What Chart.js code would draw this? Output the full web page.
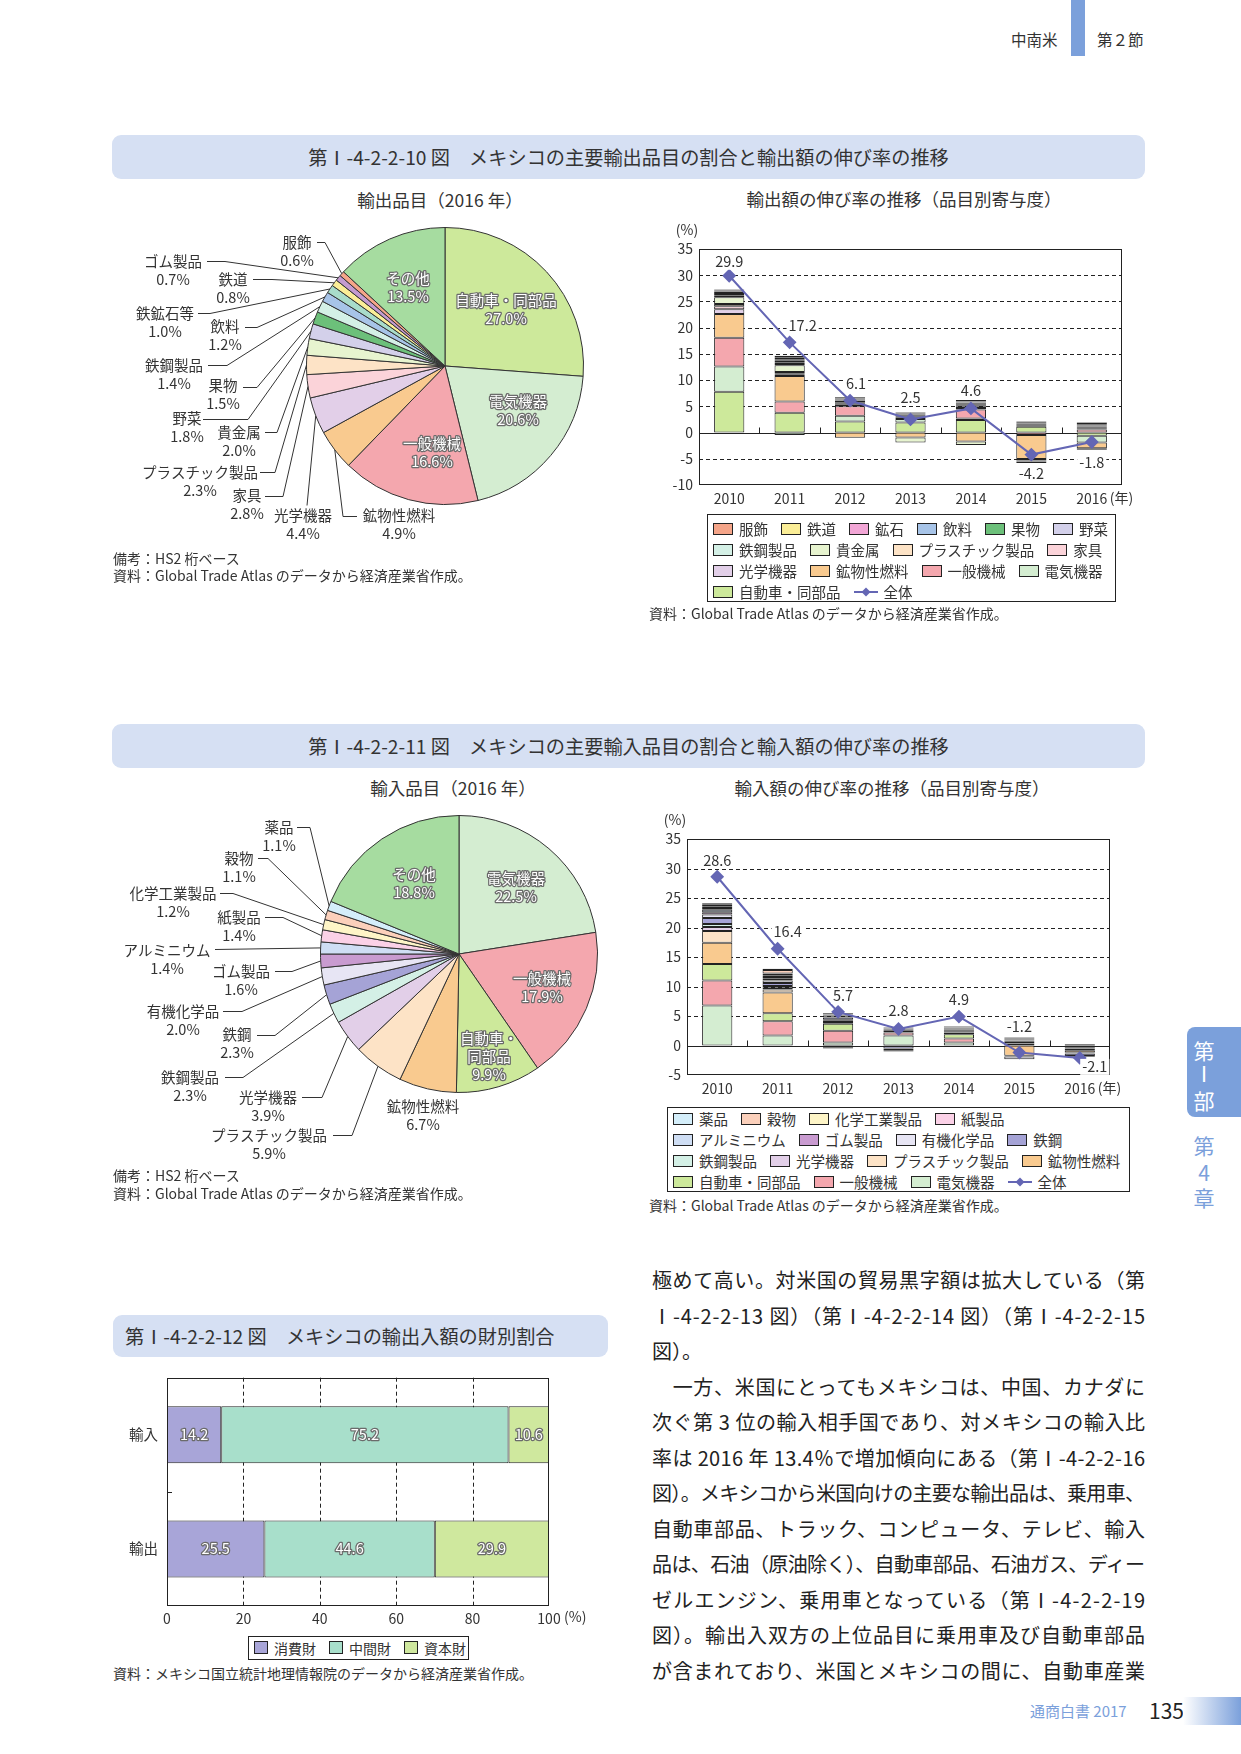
<!DOCTYPE html>
<html lang="ja">
<head>
<meta charset="utf-8">
<title>メキシコの主要輸出入品目</title>
<script src="https://cdn.jsdelivr.net/npm/chart.js"></script>
<style>
  body { margin: 0; background: #fff; }
  #page { position: relative; width: 1241px; height: 1754px; overflow: hidden;
          font-family: "Noto Sans CJK JP", "Noto Sans", sans-serif; color: #333; }
  .t { position: absolute; white-space: nowrap; line-height: 1; }
  .c { transform: translateX(-50%); }
  .titlebar { position: absolute; background: #d6e0f3; border-radius: 9px; display: flex;
              align-items: center; font-size: 19.2px; color: #333; white-space: nowrap; }
  canvas { position: absolute; }
  .legend { position: absolute; border: 1px solid #222; box-sizing: border-box; font-size: 14.5px; color: #333; }
  .lrow { display: flex; align-items: center; height: 21px; }
  .litem { display: flex; align-items: center; margin-right: 13px; white-space: nowrap; }
  .sw { box-sizing: border-box; width: 20px; height: 12px; border: 1px solid #222; margin-right: 6px; }
  #goodsLegend .sw { width: 14px; height: 13px; }
  .note { position: absolute; font-size: 14px; white-space: nowrap; line-height: 18px; color: #333; }
  .body { position: absolute; left: 652px; top: 1262px; width: 493px; font-size: 20px; line-height: 35.5px; color: #222; }
  .body div { white-space: nowrap; }
  .body span { display: inline-block; }
</style>
</head>
<body>
<div id="page">

  <!-- running head -->
  <div class="t" style="left:1011px;top:32px;font-size:15.5px;">中南米</div>
  <div style="position:absolute;left:1071px;top:0;width:14px;height:56px;background:#7ba0db;"></div>
  <div class="t" style="left:1097px;top:32px;font-size:15.5px;">第２節</div>

  <!-- figure 10 -->
  <div class="titlebar" style="left:112px;top:135px;width:1033px;height:44px;justify-content:center;">第Ⅰ-4-2-2-10 図　メキシコの主要輸出品目の割合と輸出額の伸び率の推移</div>
  <div class="t c" style="left:440px;top:191px;font-size:17.5px;">輸出品目（2016 年）</div>
  <div class="t c" style="left:904px;top:190px;font-size:17.5px;">輸出額の伸び率の推移（品目別寄与度）</div>
  <canvas id="exPie" width="520" height="340" style="left:112px;top:210px;"></canvas>
  <canvas id="exGrowth" width="510" height="300" style="left:640px;top:215px;"></canvas>
  <div class="note" style="left:113px;top:549px;">備考：HS2 桁ベース</div>
  <div class="note" style="left:113px;top:566px;">資料：Global Trade Atlas のデータから経済産業省作成。</div>
  <div id="exLegend" class="legend" style="left:707px;top:514px;width:409px;height:88px;padding:3px 0 0 5px;"></div>
  <div class="note" style="left:649px;top:604px;">資料：Global Trade Atlas のデータから経済産業省作成。</div>

  <!-- figure 11 -->
  <div class="titlebar" style="left:112px;top:724px;width:1033px;height:44px;justify-content:center;">第Ⅰ-4-2-2-11 図　メキシコの主要輸入品目の割合と輸入額の伸び率の推移</div>
  <div class="t c" style="left:453px;top:779px;font-size:17.5px;">輸入品目（2016 年）</div>
  <div class="t c" style="left:892px;top:779px;font-size:17.5px;">輸入額の伸び率の推移（品目別寄与度）</div>
  <canvas id="imPie" width="520" height="370" style="left:112px;top:800px;"></canvas>
  <canvas id="imGrowth" width="510" height="300" style="left:640px;top:805px;"></canvas>
  <div class="note" style="left:113px;top:1166px;">備考：HS2 桁ベース</div>
  <div class="note" style="left:113px;top:1184px;">資料：Global Trade Atlas のデータから経済産業省作成。</div>
  <div id="imLegend" class="legend" style="left:667px;top:1107px;width:463px;height:85px;padding:0 0 0 5px;"></div>
  <div class="note" style="left:649px;top:1196px;">資料：Global Trade Atlas のデータから経済産業省作成。</div>

  <!-- figure 12 -->
  <div class="titlebar" style="left:113px;top:1315px;width:495px;height:42px;padding-left:12px;box-sizing:border-box;">第Ⅰ-4-2-2-12 図　メキシコの輸出入額の財別割合</div>
  <canvas id="goods" width="500" height="270" style="left:112px;top:1360px;"></canvas>
  <div id="goodsLegend" class="legend" style="left:248px;top:1636px;width:221px;height:24px;padding:0 0 0 5px;font-size:14px;"></div>
  <div class="note" style="left:113px;top:1664px;">資料：メキシコ国立統計地理情報院のデータから経済産業省作成。</div>

  <!-- body text -->
  <div class="body" id="body"></div>

  <!-- side tab -->
  <div style="position:absolute;left:1187px;top:1027px;width:60px;height:90px;background:#7ba0db;border-radius:8px 0 0 8px;"></div>
  <div class="t c" style="left:1204px;top:1040px;font-size:21px;color:#fff;">第</div>
  <div class="t c" style="left:1204px;top:1063px;font-size:21px;color:#fff;">Ⅰ</div>
  <div class="t c" style="left:1204px;top:1090px;font-size:21px;color:#fff;">部</div>
  <div class="t c" style="left:1204px;top:1135px;font-size:21px;color:#7ba0db;">第</div>
  <div class="t c" style="left:1204px;top:1162px;font-size:21px;color:#7ba0db;">4</div>
  <div class="t c" style="left:1204px;top:1187px;font-size:21px;color:#7ba0db;">章</div>

  <!-- footer -->
  <div class="t" style="left:1030px;top:1703px;font-size:15px;color:#7ba0db;">通商白書 2017</div>
  <div class="t" style="left:1149px;top:1700px;font-size:21px;color:#222;">135</div>
  <div style="position:absolute;left:1183px;top:1697px;width:58px;height:28px;background:linear-gradient(to right,#fff,#7ba0db);"></div>
</div>

<script>
/* PIE DATA: 2016 shares (%) */
const exPieNames = ['自動車・同部品', '電気機器', '一般機械', '鉱物性燃料', '光学機器', '家具', 'プラスチック製品',
  '貴金属', '野菜', '果物', '鉄鋼製品', '飲料', '鉄鉱石等', '鉄道', 'ゴム製品', '服飾', 'その他'];
const exPieShares = [27.0, 20.6, 16.6, 4.9, 4.4, 2.8, 2.3, 2.0, 1.8, 1.5, 1.4, 1.2, 1.0, 0.8, 0.7, 0.6, 13.5];

const imPieNames = ['電気機器', '一般機械', '自動車・同部品', '鉱物性燃料', 'プラスチック製品', '光学機器', '鉄鋼製品',
  '鉄鋼', '有機化学品', 'ゴム製品', 'アルミニウム', '紙製品', '化学工業製品', '穀物', '薬品', 'その他'];
const imPieShares = [22.5, 17.9, 9.9, 6.7, 5.9, 3.9, 2.3, 2.3, 2.0, 1.6, 1.4, 1.4, 1.2, 1.1, 1.1, 18.8];

/* GROWTH DATA: contribution by item (% pt) */
const years = ['2010', '2011', '2012', '2013', '2014', '2015', '2016'];

const exApparel   = [0.1, 0.3, 0.15, 0.05, 0.2, 0, 0.05];
const exRail      = [0.1, 0.15, 0.05, 0, 0.1, 0.05, 0.05];
const exOre       = [0.2, 0.3, 0.1, 0.05, 0.1, -0.3, -0.3];
const exDrink     = [0.3, 0.2, 0.1, 0.05, 0.1, 0.1, 0.1];
const exFruit     = [0.2, 0.3, 0.1, 0.1, 0.2, 0.15, 0.2];
const exVeg       = [0.3, 0.35, 0.2, 0.1, 0.2, 0.1, 0.15];
const exSteelProd = [0.3, 0.2, 0.1, 0.1, 0.2, -0.15, 0.1];
const exPrecious  = [1.3, 1.3, 0.3, -0.95, -0.65, -0.3, 0.2];
const exPlastic   = [0.4, 0.25, 0.2, 0.15, 0.2, 0.1, 0.15];
const exFurniture = [0.6, 0.2, 0.2, 0.2, 0.2, 0.15, 0.2];
const exOptical   = [0.9, 0.3, 0.3, 0.2, 0.3, 0.2, 0.2];
const exFuel      = [4.5, 4.9, -1.0, -0.95, -1.7, -4.6, -1.1];
const exMachinery = [5.5, 2.1, 1.8, 0.3, 1.7, -0.45, 0.6];
const exElectric  = [4.8, -0.45, 1.1, 0.7, 0.3, 0.2, -1.3];
const exAuto      = [7.8, 3.8, 2.1, 1.9, 2.4, 1.1, -0.6];
const exTotal     = [29.9, 17.2, 6.1, 2.5, 4.6, -4.2, -1.8];

const imPharma    = [0.25, 0.2, 0.1, 0.1, 0.05, 0.1, 0.1];
const imGrain     = [0.25, 0.6, -0.2, -0.2, 0.05, 0, 0];
const imChem      = [0.3, 0.3, 0.1, 0.05, 0.1, 0.1, 0];
const imPaper     = [0.3, 0.3, 0.1, 0.05, 0.1, 0.2, 0];
const imAlum      = [0.4, 0.3, 0.1, 0.05, 0.1, 0.1, 0];
const imRubber    = [0.4, 0.3, 0.15, 0.05, 0.1, 0, 0];
const imOrganic   = [0.6, 0.4, 0.2, -0.3, 0.1, -0.5, -0.1];
const imSteel     = [1.0, 0.5, 0.4, -0.4, 0.2, -0.1, -0.4];
const imSteelProd = [0.5, 0.3, 0.15, 0.1, 0.1, 0.1, -0.1];
const imOptical   = [0.7, 0.3, 0.2, 0.1, 0.2, 0.15, 0.1];
const imPlastic   = [2.0, 0.5, 0.3, 0.15, 0.3, 0, -0.1];
const imFuel      = [3.6, 3.55, -0.3, -0.1, 0, -1.75, -0.4];
const imAuto      = [2.8, 1.35, 1.2, 0.25, 0.7, 0.3, -0.3];
const imMachinery = [4.2, 2.4, 2.0, 0.5, 0.7, 0.35, -0.2];
const imElectric  = [6.8, 1.7, 0.5, 1.7, 0.5, 0, -0.3];
const imTotal     = [28.6, 16.4, 5.7, 2.8, 4.9, -1.2, -2.1];

/* GOODS SHARES (%) */
const goodsCats = ['輸入', '輸出'];
const consumerGoods = [14.2, 25.5];
const intermediateGoods = [75.2, 44.6];
const capitalGoods = [10.6, 29.9];

/* SERIES (legend order) */
const exSeries = [
  ['服飾', exApparel], ['鉄道', exRail], ['鉱石', exOre], ['飲料', exDrink], ['果物', exFruit], ['野菜', exVeg],
  ['鉄鋼製品', exSteelProd], ['貴金属', exPrecious], ['プラスチック製品', exPlastic], ['家具', exFurniture],
  ['光学機器', exOptical], ['鉱物性燃料', exFuel], ['一般機械', exMachinery], ['電気機器', exElectric],
  ['自動車・同部品', exAuto]
];
const imSeries = [
  ['薬品', imPharma], ['穀物', imGrain], ['化学工業製品', imChem], ['紙製品', imPaper],
  ['アルミニウム', imAlum], ['ゴム製品', imRubber], ['有機化学品', imOrganic], ['鉄鋼', imSteel],
  ['鉄鋼製品', imSteelProd], ['光学機器', imOptical], ['プラスチック製品', imPlastic], ['鉱物性燃料', imFuel],
  ['自動車・同部品', imAuto], ['一般機械', imMachinery], ['電気機器', imElectric]
];

/* COLOURS */
const LINE = '#6466b4';
const exColors = ['#f5a589', '#fbee97', '#f2a6d6', '#a7c4e8', '#6cc07a', '#d3d0ea', '#d4f0e6', '#e7f4cf',
  '#fde3c6', '#fbd3d9', '#e2cfe8', '#f9ca8f', '#f4a7ae', '#d4edd1', '#cde99b'];
const imColors = ['#d4eefa', '#fbd0bb', '#fef5c7', '#fbd1e7', '#cfdef4', '#c99bd0', '#e7e5f4', '#a5a3d6',
  '#d4f0e6', '#e2cfe8', '#fde3c6', '#f9ca8f', '#cde99b', '#f4a7ae', '#d4edd1'];
const exPieColors = ['#cde99b', '#d4edd1', '#f4a7ae', '#f9ca8f', '#e2cfe8', '#fbd3d9', '#fde3c6', '#e7f4cf',
  '#d3d0ea', '#6cc07a', '#d4f0e6', '#a7c4e8', '#a8dcca', '#fbee97', '#c49bd0', '#f5a589', '#a6dca0'];
const imPieColors = ['#d4edd1', '#f4a7ae', '#cde99b', '#f9ca8f', '#fde3c6', '#e2cfe8', '#d4f0e6', '#a5a3d6',
  '#e7e5f4', '#c99bd0', '#cfdef4', '#fbd1e7', '#fef5c7', '#fbd0bb', '#d4eefa', '#a6dca0'];
const goodsColors = ['#a8a5d8', '#a8dfcb', '#cfe89e'];

/* LABEL PLACEMENT (page px) */
const exPieSpots = [
  { x: 506, y: 300, inside: true }, { x: 518, y: 401, inside: true }, { x: 432, y: 443, inside: true },
  { x: 399, y: 515, sx: 357, sy: 516, ex: 343 }, { x: 303, y: 515, sx: 307, sy: 505, ex: 307 },
  { x: 247, y: 495, sx: 265, sy: 496, ex: 283 }, { x: 200, y: 472, sx: 260, sy: 472, ex: 275 },
  { x: 239, y: 432, sx: 265, sy: 432, ex: 277 }, { x: 187, y: 418, sx: 203, sy: 419, ex: 248 },
  { x: 223, y: 385, sx: 243, sy: 387, ex: 257 }, { x: 174, y: 365, sx: 208, sy: 365, ex: 227 },
  { x: 225, y: 326, sx: 245, sy: 327, ex: 257 }, { x: 165, y: 313, sx: 198, sy: 313, ex: 210 },
  { x: 233, y: 279, sx: 253, sy: 279, ex: 272 }, { x: 173, y: 261, sx: 207, sy: 261, ex: 225 },
  { x: 297, y: 242, sx: 317, sy: 242, ex: 325 }, { x: 408, y: 278, inside: true }
];
const imPieSpots = [
  { x: 516, y: 878, inside: true }, { x: 542, y: 978, inside: true }, { x: 489, y: 1038, inside: true, br: 4 },
  { x: 423, y: 1106 }, { x: 269, y: 1135, sx: 333, sy: 1135, ex: 352 },
  { x: 268, y: 1097, sx: 302, sy: 1097, ex: 322 }, { x: 190, y: 1077, sx: 225, sy: 1077, ex: 243 },
  { x: 237, y: 1034, sx: 257, sy: 1035, ex: 275 }, { x: 183, y: 1011, sx: 223, sy: 1011, ex: 242 },
  { x: 241, y: 971, sx: 275, sy: 971, ex: 292 }, { x: 167, y: 950, sx: 215, sy: 949, ex: 215 },
  { x: 239, y: 917, sx: 265, sy: 917, ex: 283 }, { x: 173, y: 893, sx: 220, sy: 893, ex: 233 },
  { x: 239, y: 858, sx: 258, sy: 858, ex: 268 }, { x: 279, y: 827, sx: 297, sy: 827, ex: 310 },
  { x: 414, y: 874, inside: true }
];
const exPointShift = [[0, -14], [13, -17], [6, -17], [0, -22], [0, -18], [0, 19], [0, 20]];
const imPointShift = [[0, -16], [10, -17], [5, -16], [0, -18], [0, -17], [0, -26], [15, 9]];

const FONT = '"Noto Sans CJK JP", "Noto Sans", sans-serif';
Chart.defaults.font.family = FONT;
Chart.defaults.font.size = 14;
Chart.defaults.color = '#333';
Chart.defaults.animation = false;
Chart.defaults.events = [];
Chart.defaults.plugins.legend.display = false;
Chart.defaults.plugins.tooltip.enabled = false;

/* white text with grey rim */
function halo(ctx, s, x, y) {
    ctx.lineJoin = 'round';
    ctx.lineWidth = 2.5;
    ctx.strokeStyle = '#6b6b6b';
    ctx.strokeText(s, x, y);
    ctx.fillStyle = '#fff';
    ctx.fillText(s, x, y);
}

/* PIE */
function pieLabels(spots, names, shares, ox, oy) {
    return {
        id: 'pieLabels',
        afterDatasetsDraw(chart) {
            const ctx = chart.ctx;
            const arcs = chart.getDatasetMeta(0).data;
            ctx.save();
            ctx.font = '14.5px ' + FONT;
            ctx.textAlign = 'center';
            ctx.textBaseline = 'middle';
            spots.forEach((s, i) => {
                const arc = arcs[i];
                if (s.sx !== undefined) {
                    const mid = (arc.startAngle + arc.endAngle) / 2;
                    const r = arc.outerRadius;
                    ctx.strokeStyle = '#333';
                    ctx.lineWidth = 1;
                    ctx.beginPath();
                    ctx.moveTo(s.sx - ox, s.sy - oy + 0.5);
                    ctx.lineTo(s.ex - ox, s.sy - oy + 0.5);
                    ctx.lineTo(arc.x + r * Math.cos(mid), arc.y + r * Math.sin(mid));
                    ctx.stroke();
                }
                const lines = s.br ? [names[i].slice(0, s.br), names[i].slice(s.br)] : [names[i]];
                lines.push(shares[i].toFixed(1) + '%');
                lines.forEach((t, k) => {
                    const x = s.x - ox, y = s.y - oy + k * 18;
                    if (s.inside) halo(ctx, t, x, y);
                    else { ctx.fillStyle = '#333'; ctx.fillText(t, x, y); }
                });
            });
            ctx.restore();
        }
    };
}

function makePie(id, names, shares, colors, spots, padding, ox, oy) {
    new Chart(document.getElementById(id), {
        type: 'pie',
        data: {
            labels: names,
            datasets: [{ data: shares, backgroundColor: colors, borderColor: '#333', borderWidth: 1, hoverOffset: 0, offset: 0 }]
        },
        options: { responsive: false, layout: { padding } },
        plugins: [pieLabels(spots, names, shares, ox, oy)]
    });
}

/* GROWTH BARS + LINE */
function growthDecor(totals, shift) {
    return {
        id: 'growthDecor',
        beforeDatasetsDraw(chart) {
            const { ctx, chartArea: a, scales: { x, y } } = chart;
            ctx.save();
            ctx.strokeStyle = '#222';
            ctx.lineWidth = 1;
            ctx.setLineDash([4, 3]);
            y.ticks.forEach(t => {
                if (t.value === 0 || t.value <= y.min || t.value >= y.max) return;
                const py = Math.round(y.getPixelForValue(t.value)) + 0.5;
                ctx.beginPath(); ctx.moveTo(a.left, py); ctx.lineTo(a.right, py); ctx.stroke();
            });
            ctx.setLineDash([]);
            const zy = Math.round(y.getPixelForValue(0)) + 0.5;
            ctx.beginPath();
            ctx.moveTo(a.left, zy); ctx.lineTo(a.right, zy);
            for (let i = 0; i < years.length - 1; i++) {
                const px = Math.round((x.getPixelForValue(i) + x.getPixelForValue(i + 1)) / 2) + 0.5;
                ctx.moveTo(px, zy); ctx.lineTo(px, zy - 6);
            }
            ctx.stroke();
            ctx.restore();
        },
        afterDatasetsDraw(chart) {
            const { ctx, chartArea: a, scales: { x } } = chart;
            ctx.save();
            ctx.strokeStyle = '#222';
            ctx.lineWidth = 1;
            ctx.strokeRect(Math.round(a.left) + 0.5, Math.round(a.top) + 0.5, Math.round(a.width) - 1, Math.round(a.height) - 1);
            ctx.font = '14.5px ' + FONT;
            ctx.textAlign = 'center';
            ctx.textBaseline = 'middle';
            const pts = chart.getDatasetMeta(chart.data.datasets.length - 1).data;
            pts.forEach((p, i) => {
                const s = totals[i].toFixed(1);
                const tx = p.x + shift[i][0], ty = p.y + shift[i][1];
                const w = ctx.measureText(s).width;
                ctx.fillStyle = '#fff';
                ctx.fillRect(tx - w / 2 - 2, ty - 8, w + 4, 16);
                ctx.fillStyle = '#333';
                ctx.fillText(s, tx, ty);
            });
            ctx.font = '14px ' + FONT;
            ctx.fillText('(%)', a.left - 12, a.top - 19);
            ctx.textAlign = 'left';
            ctx.fillText('(年)', x.getPixelForValue(years.length - 1) + 18, a.bottom + 13);
            ctx.restore();
        }
    };
}

function makeGrowth(id, series, colors, totals, yMin, yAxisW, padRight, shift) {
    const datasets = series.map((s, i) => ({
        type: 'bar', label: s[0], data: s[1], backgroundColor: colors[i],
        borderColor: '#222', borderWidth: 1, borderSkipped: false,
        barPercentage: 1, categoryPercentage: 0.5, stack: 'items', order: 1
    })).reverse();
    datasets.push({
        type: 'line', label: '全体', data: totals, stack: 'total', order: 0,
        borderColor: LINE, backgroundColor: LINE, borderWidth: 2,
        pointStyle: 'rectRot', pointRadius: 5.5, pointBackgroundColor: LINE, pointBorderColor: LINE
    });
    new Chart(document.getElementById(id), {
        type: 'bar',
        data: { labels: years, datasets },
        options: {
            responsive: false,
            layout: { padding: { left: 0, right: padRight, top: 34, bottom: 0 } },
            scales: {
                x: {
                    stacked: true, grid: { display: false, drawTicks: false }, border: { display: false },
                    ticks: { padding: 5, maxRotation: 0, autoSkip: false, font: { size: 14 } },
                    afterFit: s => { s.height = 30; }
                },
                y: {
                    stacked: true, min: yMin, max: 35, grid: { display: false, drawTicks: false }, border: { display: false },
                    ticks: { stepSize: 5, padding: 6, font: { size: 14 } },
                    afterFit: s => { s.width = yAxisW; }
                }
            }
        },
        plugins: [growthDecor(totals, shift)]
    });
}

/* GOODS (horizontal) */
const goodsDecor = {
    id: 'goodsDecor',
    beforeDatasetsDraw(chart) {
        const { ctx, chartArea: a, scales: { x, y } } = chart;
        ctx.save();
        ctx.strokeStyle = '#222';
        ctx.lineWidth = 1;
        ctx.setLineDash([4, 3]);
        x.ticks.forEach(t => {
            if (t.value <= x.min || t.value >= x.max) return;
            const px = Math.round(x.getPixelForValue(t.value)) + 0.5;
            ctx.beginPath(); ctx.moveTo(px, a.top); ctx.lineTo(px, a.bottom); ctx.stroke();
        });
        ctx.setLineDash([]);
        const my = Math.round((y.getPixelForValue(0) + y.getPixelForValue(1)) / 2) + 0.5;
        ctx.beginPath(); ctx.moveTo(a.left, my); ctx.lineTo(a.left + 5, my); ctx.stroke();
        ctx.restore();
    },
    afterDatasetsDraw(chart) {
        const { ctx, chartArea: a } = chart;
        ctx.save();
        ctx.strokeStyle = '#222';
        ctx.lineWidth = 1;
        ctx.strokeRect(Math.round(a.left) + 0.5, Math.round(a.top) + 0.5, Math.round(a.width) - 1, Math.round(a.height) - 1);
        ctx.font = '14.5px ' + FONT;
        ctx.textAlign = 'center';
        ctx.textBaseline = 'middle';
        chart.data.datasets.forEach((ds, di) => {
            chart.getDatasetMeta(di).data.forEach((bar, i) => {
                halo(ctx, ds.data[i].toFixed(1), (bar.x + bar.base) / 2, bar.y);
            });
        });
        ctx.font = '14px ' + FONT;
        ctx.fillStyle = '#333';
        ctx.textAlign = 'left';
        ctx.fillText('(%)', a.right + 15, a.bottom + 11);
        ctx.restore();
    }
};

function goodsSet(label, data, color) {
    return { label, data, backgroundColor: color, borderColor: '#222', borderWidth: 1, borderSkipped: false,
             barPercentage: 1, categoryPercentage: 0.5 };
}

new Chart(document.getElementById('goods'), {
    type: 'bar',
    data: {
        labels: goodsCats,
        datasets: [
            goodsSet('消費財', consumerGoods, goodsColors[0]),
            goodsSet('中間財', intermediateGoods, goodsColors[1]),
            goodsSet('資本財', capitalGoods, goodsColors[2])
        ]
    },
    options: {
        indexAxis: 'y',
        responsive: false,
        layout: { padding: { left: 0, right: 63, top: 11, bottom: 0 } },
        scales: {
            x: {
                stacked: true, min: 0, max: 100, grid: { display: false, drawTicks: false }, border: { display: false },
                ticks: { stepSize: 20, padding: 4, font: { size: 14 } },
                afterFit: s => { s.height = 24; }
            },
            y: {
                stacked: true, grid: { display: false, drawTicks: false }, border: { display: false },
                ticks: { padding: 9, font: { size: 14.5 } },
                afterFit: s => { s.width = 55; }
            }
        }
    },
    plugins: [goodsDecor]
});

makePie('exPie', exPieNames, exPieShares, exPieColors, exPieSpots, { left: 194, top: 17, right: 48, bottom: 45 }, 112, 210);
makePie('imPie', imPieNames, imPieShares, imPieColors, imPieSpots, { left: 208, top: 15, right: 34, bottom: 77 }, 112, 800);
makeGrowth('exGrowth', exSeries, exColors, exTotal, -10, 59, 28, exPointShift);
makeGrowth('imGrowth', imSeries, imColors, imTotal, -5, 47, 40, imPointShift);

/* HTML LEGENDS */
function buildLegend(id, names, colors, rows, withLine) {
    const el = document.getElementById(id);
    let k = 0;
    rows.forEach(n => {
        const row = document.createElement('div');
        row.className = 'lrow';
        for (let j = 0; j < n; j++, k++) {
            row.insertAdjacentHTML('beforeend',
                `<span class="litem"><span class="sw" style="background:${colors[k]}"></span>${names[k]}</span>`);
        }
        el.appendChild(row);
    });
    if (withLine) {
        el.lastChild.insertAdjacentHTML('beforeend',
            `<span class="litem"><svg width="24" height="12" style="margin-right:6px"><line x1="0" y1="6" x2="24" y2="6" stroke="${LINE}" stroke-width="2"/><polygon points="12,1.5 16.5,6 12,10.5 7.5,6" fill="${LINE}"/></svg>全体</span>`);
    }
}
buildLegend('exLegend', exSeries.map(s => s[0]), exColors, [6, 4, 4, 1], true);
buildLegend('imLegend', imSeries.map(s => s[0]), imColors, [4, 4, 4, 3], true);
buildLegend('goodsLegend', ['消費財', '中間財', '資本財'], goodsColors, [3], false);

/* BODY TEXT */
const bodyLines = [
    '極めて高い。対米国の貿易黒字額は拡大している（第',
    'Ⅰ-4-2-2-13 図）（第Ⅰ-4-2-2-14 図）（第Ⅰ-4-2-2-15',
    '図）。',
    '　一方、米国にとってもメキシコは、中国、カナダに',
    '次ぐ第 3 位の輸入相手国であり、対メキシコの輸入比',
    '率は 2016 年 13.4％で増加傾向にある（第Ⅰ-4-2-2-16',
    '図）。メキシコから米国向けの主要な輸出品は、乗用車、',
    '自動車部品、トラック、コンピュータ、テレビ、輸入',
    '品は、石油（原油除く）、自動車部品、石油ガス、ディー',
    'ゼルエンジン、乗用車となっている（第Ⅰ-4-2-2-19',
    '図）。輸出入双方の上位品目に乗用車及び自動車部品',
    'が含まれており、米国とメキシコの間に、自動車産業'
];
const body = document.getElementById('body');
bodyLines.forEach((txt, i) => {
    const d = document.createElement('div');
    const s = document.createElement('span');
    s.textContent = txt;
    d.appendChild(s);
    body.appendChild(d);
    if (i === 2) return;
    const n = [...txt].length;
    const w = s.getBoundingClientRect().width;
    s.style.letterSpacing = ((493 - w) / (n - 1)) + 'px';
});
</script>
</body>
</html>
